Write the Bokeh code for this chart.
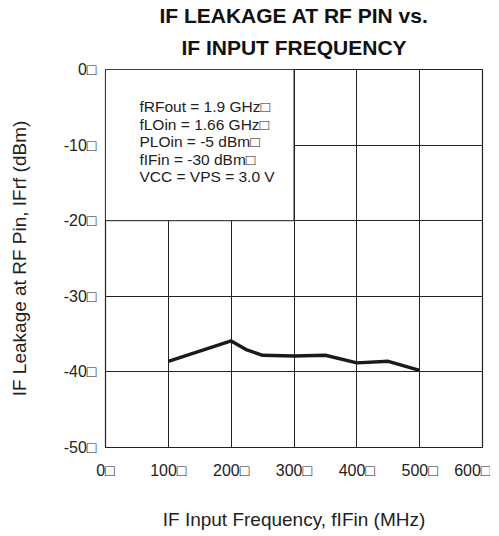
from bokeh.plotting import figure
from bokeh.models import Range1d, Label, FixedTicker, Title
from bokeh.embed import file_html
from bokeh.resources import INLINE

# data
freq_mhz = [100, 200, 225, 250, 300, 350, 400, 450, 500]
leak_dbm = [-38.6, -35.9, -37.1, -37.8, -37.9, -37.8, -38.8, -38.6, -39.8]
x_ticks = [0, 100, 200, 300, 400, 500, 600]
y_ticks = [-50, -40, -30, -20, -10, 0]
x_tick_labels = ["0\u25a1", "100\u25a1", "200\u25a1", "300\u25a1", "400\u25a1", "500\u25a1", "600\u25a1"]
y_tick_labels = ["-50\u25a1", "-40\u25a1", "-30\u25a1", "-20\u25a1", "-10\u25a1", "0\u25a1"]
title_lines = ["IF LEAKAGE AT RF PIN vs.", "IF INPUT FREQUENCY"]
cond_lines = ["fRFout = 1.9 GHz\u25a1", "fLOin = 1.66 GHz\u25a1", "PLOin = -5 dBm\u25a1",
              "fIFin = -30 dBm\u25a1", "VCC = VPS = 3.0 V"]

FONT = "Liberation Sans"

p = figure(width=490, height=532, output_backend="svg", toolbar_location=None,
           x_range=Range1d(0, 600), y_range=Range1d(-50, 0),
           min_border_left=105, min_border_right=8, min_border_top=69, min_border_bottom=84)
p.background_fill_color = "white"
p.border_fill_color = "white"
p.outline_line_color = "#222222"
p.outline_line_width = 1.2

for ax in (p.xaxis[0], p.yaxis[0]):
    ax.axis_line_color = None
    ax.major_tick_line_color = None
    ax.minor_tick_line_color = None
    ax.major_label_text_font = FONT
    ax.major_label_text_font_size = "16px"
    ax.major_label_text_color = "#222222"
    ax.axis_label_text_font = FONT
    ax.axis_label_text_font_size = "19px"
    ax.axis_label_text_font_style = "normal"
    ax.axis_label_text_color = "#222222"

p.xaxis.ticker = FixedTicker(ticks=x_ticks)
p.yaxis.ticker = FixedTicker(ticks=y_ticks)
p.xaxis.major_label_overrides = {t: l for t, l in zip(x_ticks, x_tick_labels)}
p.yaxis.major_label_overrides = {t: l for t, l in zip(y_ticks, y_tick_labels)}
p.xaxis.major_label_standoff = 8
p.yaxis.major_label_standoff = 3
p.xaxis.axis_label = "IF Input Frequency, fIFin (MHz)"
p.yaxis.axis_label = "IF Leakage at RF Pin, IFrf (dBm)"
p.xaxis.axis_label_standoff = 27
p.yaxis.axis_label_standoff = 31

p.xgrid.grid_line_color = "#222222"
p.ygrid.grid_line_color = "#222222"
p.xgrid.grid_line_width = 1
p.ygrid.grid_line_width = 1

# white box hiding the grid behind the conditions text
p.quad(left=[0], right=[300], bottom=[-20], top=[0], fill_color="white",
       line_color="#222222", line_width=1)

p.line(freq_mhz, leak_dbm, line_color="#1a1a1a", line_width=3.4, line_join="round")

p.add_layout(Label(x=54, y=-3.8, text="\n".join(cond_lines), text_font=FONT,
                   text_font_size="15.5px", text_color="#222222", text_baseline="top",
                   text_line_height=1.03))

p.title.visible = False
p.add_layout(Title(text=title_lines[1], align="center", vertical_align="top", text_font=FONT,
                   text_font_size="21px", text_font_style="bold", text_color="#111111",
                   standoff=18), "above")
p.add_layout(Title(text=title_lines[0], align="center", vertical_align="bottom", text_font=FONT,
                   text_font_size="21px", text_font_style="bold", text_color="#111111",
                   standoff=0), "above")

open("out.html", "w").write(file_html(p, INLINE))
